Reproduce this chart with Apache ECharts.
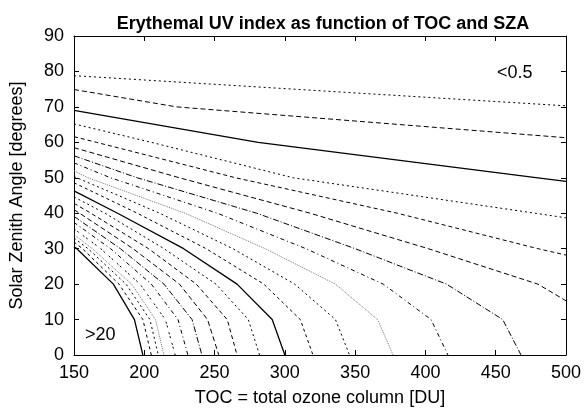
<!DOCTYPE html>
<html>
<head>
<meta charset="utf-8">
<script src="https://cdn.jsdelivr.net/npm/echarts@6/dist/echarts.min.js"></script>
<style>
html, body { margin: 0; padding: 0; background: #fff; }
#main { width: 584px; height: 412px; }
</style>
</head>
<body>
<div id="main"></div>
<script>
// contour levels of the erythemal UV index, smallest first
var levels = [0.25, 0.5, 1, 2, 3, 4, 5, 6, 7, 8, 9, 10, 11, 12, 13, 14, 15, 16, 17, 18, 19, 20];
// SZA where each contour meets TOC = 150 (left edge) and TOC = 500 (right edge)
var leftSza = [78.8, 74.9, 69, 65.2, 61.6, 58.5, 56.2, 54.2, 52, 50.3, 48.6, 46.3, 44.6, 42.8, 41.0, 39.1, 37.4, 35.6, 34.0, 33.0, 31.9, 30.5];
var rightSza = [70.3, 61.3, 49, 38.7, 28.2, 15.3, null, null, null, null, null, null, null, null, null, null, null, null, null, null, null, null];
// TOC where each contour crosses SZA = 70, 60, ... 0
var toc70 = [null, 223, null, null, null, null, null, null, null, null, null, null, null, null, null, null, null, null, null, null, null, null];
var toc60 = [null, null, 281, 205, 166, null, null, null, null, null, null, null, null, null, null, null, null, null, null, null, null, null];
var toc50 = [null, null, 480, 306, 265, 225, 195, 176, 160, 152, null, null, null, null, null, null, null, null, null, null, null, null];
var toc40 = [null, null, null, 478, 380, 318, 280, 252, 229, 211, 195, 181, 172, 162, 154, null, null, null, null, null, null, null];
var toc30 = [null, null, null, null, 480, 402, 350, 315, 286, 263, 244, 228, 214, 203, 192, 183, 176, 169, 163, 160, 156, 152];
var toc20 = [null, null, null, null, null, 480, 415, 370, 336, 307, 285, 266, 251, 237, 225, 214, 205, 197, 191, 187, 182, 178];
var toc10 = [null, null, null, null, null, null, 455, 404, 366, 336, 311, 291, 274, 259, 245, 234, 224, 215, 208, 204, 199, 193];
var toc0  = [null, null, null, null, null, null, 468, 416, 377, 346, 320, 300, 282, 266, 253, 241, 231, 222, 214, 210, 205, 199];

var xTicks = [150, 500, 50];
var yTicks = [0, 90, 10];

// gnuplot-like dash patterns, one per level
var dashes = [[2, 3], [5, 3], 'solid', [2, 3], [4, 3], [5, 3], [6, 2, 1, 2], [4, 3, 1, 3], [1, 1], [2, 3], [3, 3],
  'solid', [2, 3], [4, 3], [5, 3], [6, 2, 1, 2], [4, 3, 1, 3], [2, 2, 2, 5], [1, 1], [2, 3], [3, 3], 'solid'];

var grid = [[70, toc70], [60, toc60], [50, toc50], [40, toc40], [30, toc30], [20, toc20], [10, toc10], [0, toc0]];

var series = levels.map(function (lev, i) {
  var pts = [];
  if (leftSza[i] != null) pts.push([xTicks[0], leftSza[i]]);
  grid.forEach(function (g) {
    if (g[1][i] != null) pts.push([g[1][i], g[0]]);
  });
  if (rightSza[i] != null) pts.push([xTicks[1], rightSza[i]]);
  pts.sort(function (a, b) { return a[0] - b[0]; });
  var grey = dashes[i].length === 2 && dashes[i][0] === 1;
  return {
    name: 'UVI ' + lev,
    type: 'line',
    data: pts,
    symbol: 'none',
    silent: true,
    animation: false,
    lineStyle: {
      color: grey ? '#777' : '#000',
      width: dashes[i] === 'solid' ? 1.3 : 1,
      type: dashes[i]
    }
  };
});

var font = 'Liberation Sans';
var chartDom = document.getElementById('main');
var myChart = echarts.init(chartDom);

function axisBase(extra) {
  var a = {
    type: 'value',
    axisLine: { show: true, onZero: false, lineStyle: { color: '#000', width: 1 } },
    axisTick: { show: true, inside: true, length: 5, lineStyle: { color: '#000' } },
    splitLine: { show: false }
  };
  for (var k in extra) a[k] = extra[k];
  return a;
}

var option = {
  animation: false,
  title: {
    text: 'Erythemal UV index as function of TOC and SZA',
    left: 318,
    top: 10,
    textAlign: 'center',
    textStyle: { fontSize: 18, fontWeight: 'bold', fontFamily: font, color: '#000' }
  },
  grid: { left: 71, right: 17, top: 36, bottom: 57 },
  xAxis: [
    axisBase({
      position: 'bottom', min: xTicks[0], max: xTicks[1], interval: xTicks[2],
      axisLabel: { color: '#000', fontSize: 18, fontFamily: font, margin: 9 },
      name: 'TOC = total ozone column [DU]',
      nameLocation: 'middle', nameGap: 34,
      nameTextStyle: { color: '#000', fontSize: 18, fontFamily: font }
    }),
    axisBase({
      position: 'top', min: xTicks[0], max: xTicks[1], interval: xTicks[2],
      axisLabel: { show: false }
    })
  ],
  yAxis: [
    axisBase({
      position: 'left', min: yTicks[0], max: yTicks[1], interval: yTicks[2],
      axisLabel: { color: '#000', fontSize: 18, fontFamily: font, margin: 10 },
      name: 'Solar Zenith Angle [degrees]',
      nameLocation: 'middle', nameGap: 48,
      nameTextStyle: { color: '#000', fontSize: 18, fontFamily: font }
    }),
    axisBase({
      position: 'right', min: yTicks[0], max: yTicks[1], interval: yTicks[2],
      axisLabel: { show: false }
    })
  ],
  graphic: [
    { type: 'text', left: 497, top: 64, style: { text: '<0.5', font: '18px ' + font, fill: '#000' } },
    { type: 'text', left: 85, top: 326, style: { text: '>20', font: '18px ' + font, fill: '#000' } }
  ],
  series: series
};

option && myChart.setOption(option);
</script>
</body>
</html>
